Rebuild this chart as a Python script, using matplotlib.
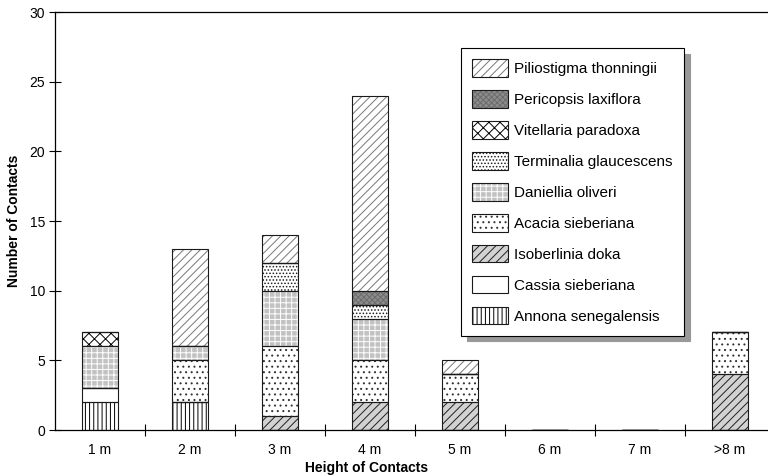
import matplotlib
matplotlib.use('Agg')
import matplotlib.pyplot as plt
from matplotlib.patches import Patch
import numpy as np

plt.rcParams['font.family'] = ['Liberation Sans', 'DejaVu Sans']
plt.rcParams['hatch.linewidth'] = 0.7

# heights of contacts (categories)
heights = ['1 m', '2 m', '3 m', '4 m', '5 m', '6 m', '7 m', '>8 m']

# number of contacts per species, stacked from bottom to top
annona = [2, 2, 0, 0, 0, 0, 0, 0]
cassia = [1, 0, 0, 0, 0, 0, 0, 0]
isoberlinia = [0, 0, 1, 2, 2, 0, 0, 4]
acacia = [0, 3, 5, 3, 2, 0, 0, 3]
daniellia = [3, 1, 4, 3, 0, 0, 0, 0]
terminalia = [0, 0, 2, 1, 0, 0, 0, 0]
vitellaria = [1, 0, 0, 0, 0, 0, 0, 0]
pericopsis = [0, 0, 0, 1, 0, 0, 0, 0]
piliostigma = [0, 7, 2, 14, 1, 0, 0, 0]

species = ['Annona senegalensis', 'Cassia sieberiana', 'Isoberlinia doka',
           'Acacia sieberiana', 'Daniellia oliveri', 'Terminalia glaucescens',
           'Vitellaria paradoxa', 'Pericopsis laxiflora', 'Piliostigma thonningii']
counts = [annona, cassia, isoberlinia, acacia, daniellia, terminalia,
          vitellaria, pericopsis, piliostigma]

# (face colour, hatch, hatch colour)
styles = [
    ('white', '||||', 'black'),
    ('white', '', 'black'),
    ('#d2d2d2', '////', '#202020'),
    ('white', '...', '#303030'),
    ('#c2c2c2', '+++', 'white'),
    ('white', '.....', '#202020'),
    ('white', 'xxx', 'black'),
    ('#8c8c8c', 'xxxxxx', '#6c6c6c'),
    ('white', '////', '#777777'),
]

fig = plt.figure(figsize=(7.68, 4.75), dpi=100)
ax = fig.add_axes([55 / 768, 1 - 430 / 475, 720 / 768, 418 / 475])

x = np.arange(len(heights))
bottom = np.zeros(len(heights))
handles = []
for name, vals, (fc, hatch, hc) in zip(species, counts, styles):
    vals = np.array(vals, dtype=float)
    ax.bar(x, vals, width=0.4, bottom=bottom, color=fc, hatch=hatch,
           edgecolor=hc, linewidth=0, zorder=2)
    ax.bar(x, vals, width=0.4, bottom=bottom, facecolor='none',
           edgecolor='#1a1a1a', linewidth=0.8, zorder=3)
    bottom += vals
    handles.append((Patch(facecolor=fc, hatch=hatch, edgecolor=hc, linewidth=0),
                    Patch(facecolor='none', edgecolor='#1a1a1a', linewidth=0.8)))

ax.set_xlim(-0.5, 7.5)
ax.set_ylim(0, 30)
ax.set_yticks(range(0, 31, 5))
ax.set_xticks(x)
ax.set_xticklabels(heights)
ax.set_xticks(np.arange(0.5, 7.5, 1), minor=True)
ax.tick_params(axis='x', which='major', length=0, pad=9, labelsize=10)
ax.tick_params(axis='x', which='minor', direction='inout', length=8, width=0.8)
ax.tick_params(axis='y', direction='inout', length=8, width=0.8, labelsize=10, pad=3)
ax.spines['right'].set_visible(False)
for s in ['left', 'bottom', 'top']:
    ax.spines[s].set_linewidth(0.9)

ax.set_xlabel('Height of Contacts', fontweight='bold', fontsize=10)
ax.xaxis.set_label_coords(0.433, -0.075)
ax.set_ylabel('Number of Contacts', fontweight='bold', fontsize=10)
ax.yaxis.set_label_coords(-0.047, 0.5)

leg = ax.legend(handles[::-1], species[::-1], loc='upper left',
                bbox_to_anchor=(461 / 768, 1 - 48 / 475),
                bbox_transform=fig.transFigure, borderaxespad=0,
                fancybox=False, edgecolor='black', framealpha=1,
                fontsize=11, handlelength=2.3, handleheight=1.37,
                labelspacing=0.89, handletextpad=0.45, borderpad=0.75,
                shadow={'ox': 4, 'oy': -4, 'facecolor': '0.6',
                        'edgecolor': '0.6', 'alpha': 1})
leg.get_frame().set_linewidth(0.8)

fig.savefig('out.png', dpi=100)
